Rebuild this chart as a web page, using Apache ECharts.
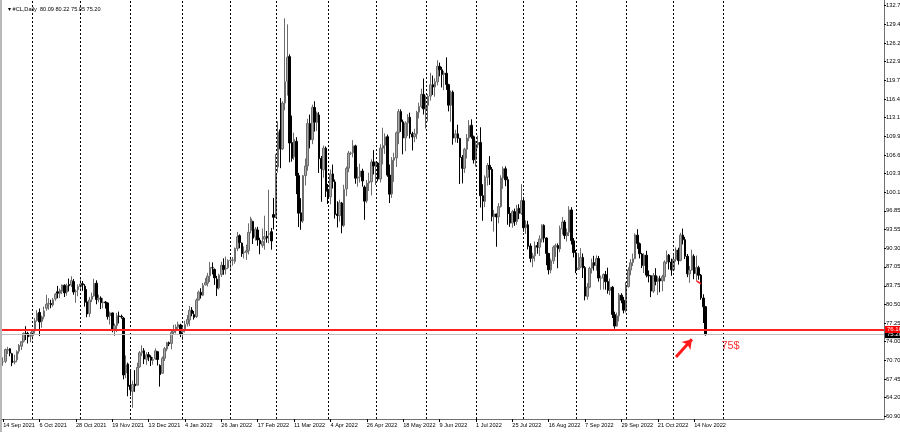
<!DOCTYPE html>
<html><head><meta charset="utf-8">
<script src="https://cdn.jsdelivr.net/npm/echarts@6/dist/echarts.min.js"></script>
<style>html,body{margin:0;padding:0;background:#fff}#c{width:900px;height:432px}</style>
</head><body><div id="c"></div>
<script>
// Daily bars, each [open, high, low, close]
const sep21=[[70.43,71.23,69.76,70.46],[70.55,72.77,70.23,72.61],[72.45,73.08,71.83,72.61],[72.73,72.83,71.43,71.97],[71.87,72.02,69.69,70.29],[70.40,71.70,70.01,70.56],[70.80,72.46,70.39,72.23],[72.31,73.57,71.87,73.30],[73.18,74.09,72.52,73.98],[74.05,75.57,73.82,75.45],[75.45,76.67,74.26,75.29],[75.44,75.70,73.66,74.83],[74.94,75.65,73.88,75.03]];
const oct21=[[75.03,76.21,74.33,75.88],[75.88,78.12,75.40,77.62],[77.68,79.48,77.47,78.93],[79.09,79.78,74.96,77.43],[77.53,78.53,76.41,78.30],[78.39,80.11,77.90,79.35],[79.80,82.18,79.38,80.52],[80.54,81.58,79.56,80.64],[80.65,81.30,79.81,80.44],[80.41,81.62,80.07,81.31],[81.47,82.49,81.12,82.28],[82.70,83.73,81.56,82.44],[82.45,83.27,81.59,82.96],[82.80,83.96,82.27,83.87],[83.84,84.00,81.78,82.50],[82.64,84.13,82.01,83.76],[83.98,85.01,82.76,83.76],[83.88,85.41,83.52,84.65],[84.49,84.94,82.18,82.66],[82.78,83.10,80.77,82.81],[83.08,84.00,81.93,83.57]];
const nov21=[[83.62,84.88,82.82,84.05],[84.10,84.58,82.87,83.91],[83.67,84.03,80.11,80.86],[80.95,83.15,78.25,78.81],[78.90,81.80,78.30,81.27],[81.40,82.55,80.88,81.93],[81.95,84.97,81.82,84.15],[84.20,84.70,80.52,81.34],[81.40,82.19,80.86,81.59],[81.62,81.90,79.67,80.79],[80.80,81.60,79.80,80.88],[80.90,81.08,79.77,80.76],[80.75,80.83,77.84,78.36],[78.50,79.25,76.98,79.01],[79.00,79.08,75.62,76.10],[76.20,77.14,74.98,76.75],[76.76,78.99,75.66,78.50],[78.48,79.23,77.16,78.39],[78.40,78.70,78.00,78.30],[78.10,78.30,67.40,68.15],[68.50,71.56,67.60,69.95],[70.08,70.31,64.43,66.18]];
const dec21=[[66.36,69.10,64.52,65.57],[65.30,67.18,62.43,66.50],[66.55,69.00,65.20,66.26],[66.38,70.30,66.30,69.49],[69.60,72.36,69.38,72.05],[72.03,73.34,71.43,72.36],[72.40,72.85,70.06,70.94],[70.90,72.13,69.94,71.67],[71.70,72.17,70.57,71.29],[71.30,71.60,69.71,70.73],[70.70,71.30,69.96,70.87],[71.01,72.80,70.80,72.38],[72.22,72.31,69.81,70.86],[69.82,70.02,66.12,68.23],[68.46,71.40,68.36,71.12],[71.08,73.05,70.59,72.76],[72.70,73.95,72.30,73.79],[73.80,74.00,73.20,73.60],[73.67,75.92,72.64,75.57],[75.60,76.92,75.30,75.98],[75.90,77.00,75.42,76.56],[76.50,77.47,76.01,76.99],[76.90,77.11,74.78,75.21]];
const jan22=[[75.69,76.58,74.27,76.08],[76.20,77.63,75.58,76.99],[77.10,78.63,76.63,77.85],[77.77,80.24,76.69,79.46],[79.52,80.01,78.42,78.90],[78.70,79.33,77.84,78.23],[78.35,81.53,78.12,81.22],[81.25,82.92,81.17,82.64],[82.60,83.32,81.50,82.12],[82.10,84.23,81.94,83.82],[83.90,85.10,83.80,84.30],[84.20,86.00,83.63,85.43],[85.50,87.91,84.40,86.96],[86.90,87.83,85.73,86.90],[86.60,86.77,83.91,85.14],[84.90,85.48,81.95,83.31],[83.40,85.87,83.09,85.60],[85.70,87.95,85.30,87.35],[87.30,88.54,85.67,86.61],[86.70,88.84,85.74,86.82],[86.90,88.38,86.66,88.15]];
const feb22=[[88.20,88.82,86.55,88.20],[88.20,88.78,87.25,88.26],[88.00,90.44,87.60,90.27],[90.27,93.17,89.81,92.31],[92.50,92.73,90.30,91.32],[91.20,91.33,88.80,89.36],[89.50,90.64,88.53,89.66],[89.60,90.94,88.27,89.88],[89.90,94.66,89.23,93.10],[93.40,95.82,92.91,95.46],[95.00,95.10,91.05,92.07],[92.30,94.00,91.64,93.66],[93.50,94.05,90.74,91.76],[91.70,92.14,89.26,91.07],[90.80,93.75,90.40,91.50],[91.90,96.00,90.05,92.35],[92.40,93.34,91.28,92.10],[92.80,100.54,91.18,92.81],[93.20,93.86,90.06,91.59],[96.20,99.10,93.60,95.72]];
const mar22=[[95.80,106.78,95.59,103.41],[104.50,112.51,103.51,110.60],[111.00,116.57,104.30,107.67],[107.70,116.00,107.48,115.68],[115.70,130.50,114.42,119.40],[119.50,129.44,117.00,123.70],[123.80,124.20,105.33,108.70],[108.80,113.50,105.45,106.02],[106.30,110.50,105.76,109.33],[109.00,109.72,99.76,103.01],[103.00,103.48,94.00,96.44],[96.50,99.06,93.53,95.04],[95.10,103.12,94.74,102.98],[103.00,106.00,101.28,104.70],[104.70,112.91,103.86,112.12],[112.10,113.67,107.77,109.27],[109.30,115.40,108.50,114.93],[114.90,116.00,110.70,112.34],[112.30,114.20,110.81,113.90],[113.60,114.10,103.46,105.96],[106.00,106.43,98.44,104.24],[104.00,108.25,102.62,107.82],[107.80,108.10,99.26,100.28]];
const apr22=[[100.30,101.54,98.05,99.27],[99.30,104.08,98.00,103.28],[103.30,104.93,100.74,101.96],[101.90,102.33,95.50,96.23],[96.30,98.52,93.95,96.03],[96.00,98.80,94.95,98.26],[98.20,98.40,92.93,94.29],[94.30,101.40,94.00,100.60],[100.70,104.59,99.40,104.25],[104.30,107.33,103.60,106.95],[106.90,107.20,106.60,106.95],[107.00,109.20,106.20,108.21],[108.20,108.40,101.58,102.56],[102.60,104.54,101.08,102.75],[102.80,105.08,101.79,103.79],[103.80,104.21,101.07,102.07],[101.00,101.30,95.28,98.54],[98.60,102.22,98.21,101.70],[101.70,103.50,100.31,102.02],[101.90,105.86,99.53,105.36],[105.40,107.46,103.20,104.69]];
const may22=[[104.70,105.45,101.36,105.17],[105.20,105.35,102.00,102.41],[102.40,108.48,101.80,107.81],[107.80,111.37,104.96,108.26],[108.30,110.39,106.80,109.77],[109.80,110.18,102.80,103.09],[103.10,104.93,98.20,99.76],[99.80,106.24,99.10,105.71],[105.70,107.00,101.91,106.13],[106.10,110.70,104.50,110.49],[110.50,114.65,108.50,114.20],[114.20,114.58,110.65,112.40],[112.40,112.80,106.72,109.59],[109.60,112.50,107.27,112.21],[112.20,113.76,109.91,113.23],[113.20,114.00,109.50,110.29],[110.30,110.66,107.40,109.77],[109.80,111.21,108.84,110.33],[110.30,114.33,109.40,114.09],[114.10,115.74,113.00,115.07],[115.10,118.20,114.80,117.20],[117.20,119.98,113.68,114.67]];
const jun22=[[114.70,117.00,111.23,115.26],[115.30,117.24,112.45,116.87],[116.90,120.99,116.10,118.87],[118.90,120.50,117.10,118.50],[118.50,120.00,116.80,119.41],[119.40,123.18,118.80,122.11],[122.10,122.75,120.36,121.51],[121.50,122.00,118.41,120.67],[120.70,121.32,117.93,120.93],[120.90,123.68,118.00,118.93],[118.90,119.06,114.23,115.31],[115.30,117.88,112.41,117.59],[117.60,117.89,108.41,109.56],[109.60,111.00,108.80,110.30],[110.30,111.90,108.72,109.52],[109.50,109.60,101.53,106.19],[106.20,106.59,101.64,104.27],[104.30,107.87,103.47,107.62],[107.60,110.27,106.00,109.57],[109.60,112.70,109.00,111.76],[111.80,112.84,109.46,109.78],[109.80,110.00,105.11,105.76]];
const jul22=[[105.80,109.10,104.56,108.43],[108.40,110.00,107.80,108.80],[108.80,111.45,97.43,99.50],[99.50,101.50,95.10,98.53],[98.50,103.05,97.50,102.73],[102.70,105.20,101.26,104.79],[104.80,106.40,101.37,104.09],[104.10,104.50,95.01,95.84],[95.80,97.00,93.22,96.30],[96.30,96.36,90.56,95.78],[95.80,98.20,94.67,97.59],[97.60,103.05,97.40,102.60],[102.60,104.60,100.68,104.22],[104.20,104.62,101.15,102.26],[102.30,102.84,94.41,96.35],[96.40,97.50,94.05,94.70],[94.70,97.00,93.90,96.70],[96.70,97.24,94.21,94.98],[95.00,97.89,94.41,97.26],[97.30,98.00,95.40,96.42],[96.40,101.50,96.15,98.62]];
const aug22=[[98.60,99.20,93.20,93.89],[93.90,95.18,92.80,94.42],[94.40,95.10,90.10,90.66],[90.70,91.15,87.85,88.54],[88.50,89.50,87.01,89.01],[89.00,91.50,88.00,90.76],[90.80,91.40,89.34,90.50],[90.50,92.57,88.94,91.93],[91.90,94.50,91.30,94.34],[94.30,94.50,91.32,92.09],[92.10,92.20,87.34,89.41],[89.40,89.50,85.73,86.53],[86.50,88.50,85.93,88.11],[88.10,90.78,87.55,90.50],[90.50,91.11,88.80,90.77],[90.80,91.15,86.81,90.23],[90.20,94.26,89.60,93.74],[93.70,95.78,92.70,94.89],[94.90,95.23,91.91,92.52],[92.50,93.75,91.47,93.06],[93.10,97.65,92.43,97.01],[97.00,97.49,90.95,91.64],[91.60,92.10,88.71,89.55]];
const sep22=[[89.50,90.00,85.96,86.61],[86.60,89.45,86.55,86.87],[87.00,90.33,86.80,88.70],[88.70,89.40,85.10,86.88],[86.90,87.20,81.20,81.94],[81.90,84.21,81.30,83.54],[83.50,87.07,83.30,86.79],[86.80,88.50,85.90,87.78],[87.80,88.98,86.40,87.31],[87.30,89.06,86.40,88.48],[88.50,88.96,84.47,85.10],[85.10,85.54,83.05,85.11],[85.10,85.90,83.08,85.73],[85.70,86.34,83.06,84.45],[84.50,86.91,82.35,82.94],[82.90,85.00,82.11,83.49],[83.50,83.70,78.11,78.74],[78.70,79.21,76.25,76.71],[76.70,79.07,76.60,78.50],[78.50,82.50,77.50,82.15],[82.10,82.45,80.70,81.23],[81.20,81.80,78.92,79.49]];
const oct22=[[79.50,84.42,79.08,83.63],[83.60,86.97,83.43,86.52],[86.50,88.42,85.58,87.76],[87.80,89.37,87.20,88.45],[88.50,92.90,88.38,92.64],[92.60,93.64,90.20,91.13],[91.10,91.31,88.53,89.35],[89.30,89.49,86.83,87.27],[87.30,89.44,85.96,89.11],[89.10,89.87,85.22,85.61],[85.60,86.42,84.34,85.46],[85.50,85.60,81.76,82.82],[82.80,86.00,82.50,85.55],[85.50,86.82,83.83,84.51],[84.50,85.38,82.13,85.05],[85.00,85.50,82.61,84.58],[84.60,85.65,82.79,85.32],[85.30,88.20,84.51,87.91],[87.90,89.91,87.57,89.08],[89.10,89.30,86.60,87.90],[87.90,88.50,85.50,86.53]];
const nov22=[[86.50,89.30,86.30,88.37],[88.40,90.46,87.97,90.00],[90.00,90.40,87.45,88.17],[88.20,93.00,88.02,92.61],[92.60,93.74,90.97,91.79],[91.80,92.30,88.42,88.91],[88.90,89.30,85.25,85.83],[85.80,87.20,84.26,86.47],[86.50,90.05,86.39,88.96],[88.90,89.25,84.89,85.87],[85.90,89.03,84.61,86.92],[86.90,87.24,84.80,85.59],[85.60,85.80,81.30,81.64],[81.60,82.26,77.24,80.08],[80.09,80.22,75.05,75.20]];

const firstDate = '2021-09-14';
const emptyBarsRight = 78;
const priceTicks = [60.90,64.20,67.45,70.70,74.00,77.25,80.50,83.75,87.05,90.30,93.55,96.85,100.10,103.35,106.60,109.90,113.15,116.40,119.70,122.95,126.20,129.45,132.75];
const supportLevel = 76.10;
const bidLevel = 75.20;
const symbolName = '#CL,Daily';
const noteText = '75$';
const arrowFrom = [296.2, 71.3];
const arrowTo = [302.5, 74.4];
const notePos = [320, 73.3];
const redTickFrom = [304.8, 84.6];
const redTickTo = [306.6, 84.1];

const bars = [].concat(sep21,oct21,nov21,dec21,jan22,feb22,mar22,apr22,may22,jun22,jul22,aug22,sep22,oct22,nov22);
const nBars = bars.length;

// weekday calendar (every weekday has a bar on this CFD chart)
const dates = [];
{
  const d = new Date(firstDate + 'T00:00:00Z');
  while (dates.length < nBars + emptyBarsRight) {
    const wd = d.getUTCDay();
    if (wd !== 0 && wd !== 6) dates.push(d.toISOString().slice(0,10));
    d.setUTCDate(d.getUTCDate() + 1);
  }
}
const MON = ['Jan','Feb','Mar','Apr','May','Jun','Jul','Aug','Sep','Oct','Nov','Dec'];
function fmtDate(s){ const p=s.split('-'); return (+p[2])+' '+MON[+p[1]-1]+' '+p[0]; }

// month-start grid lines
const monthStarts = [];
for (let i = 1; i < dates.length; i++) {
  if (dates[i].slice(0,7) !== dates[i-1].slice(0,7) && i < nBars + 12) monthStarts.push(dates[i]);
}

const candleData = bars.map(b => [b[0], b[3], b[2], b[1]]);
const last = bars[nBars-1];
const labelEvery = 16;
const showLabel = (idx) => idx % labelEvery === 0 && idx < nBars;

const chart = echarts.init(document.getElementById('c'), null, {renderer:'canvas'});
const FONT = 'Liberation Sans';
chart.setOption({
  animation:false,
  backgroundColor:'#ffffff',
  title:{text:'\u25BE ' + symbolName + '  ' + last.map(v=>v.toFixed(2)).join(' '), left:3, top:1,
    textStyle:{fontSize:5.6, fontWeight:'normal', color:'#000', fontFamily:FONT}},
  grid:{left:2, right:16, top:0, bottom:13, outerBoundsMode:'none', containLabel:false},
  xAxis:{type:'category', data:dates, boundaryGap:true,
    axisLine:{show:true, lineStyle:{color:'#707070', width:1}},
    axisTick:{show:true, alignWithLabel:true, interval:(i)=>showLabel(i), length:3, lineStyle:{color:'#000'}},
    axisLabel:{interval:(i)=>showLabel(i), formatter:fmtDate, fontSize:5.6, color:'#000', align:'left', margin:3, fontFamily:FONT, hideOverlap:false},
    splitLine:{show:false}},
  yAxis:{type:'value', position:'right', min:60.46, max:133.7, scale:true,
    axisLine:{show:true, lineStyle:{color:'#707070', width:1}},
    axisTick:{show:true, length:2, lineStyle:{color:'#000'}, customValues:priceTicks},
    axisLabel:{show:true, fontSize:5.8, color:'#000', margin:2, fontFamily:FONT, customValues:priceTicks, formatter:(v)=>v.toFixed(2)},
    splitLine:{show:false}},
  series:[{
    type:'candlestick', data:candleData, barWidth:2,
    itemStyle:{color:'#a8a8a8', color0:'#000000', borderColor:'#6c6c6c', borderColor0:'#000000', borderWidth:1},
    markLine:{silent:true, symbol:['none','none'], animation:false,
      data:[
        ...monthStarts.map(m=>({xAxis:m, lineStyle:{color:'#000', width:1, type:[2,2]}, label:{show:false}})),
        {yAxis:bidLevel, lineStyle:{color:'#c0c0c0', width:1, type:'solid'},
          label:{show:true, position:'end', distance:1, formatter:bidLevel.toFixed(2), color:'#fff', backgroundColor:'#000', padding:[1,2,0,2], fontSize:6, fontFamily:FONT}},
        {yAxis:supportLevel, lineStyle:{color:'#ff2020', width:2, type:'solid'},
          label:{show:true, position:'end', distance:1, formatter:supportLevel.toFixed(2), color:'#fff', backgroundColor:'#ff0000', padding:[1,2,0,2], fontSize:6, fontFamily:FONT}},
        [{coord:arrowFrom, symbol:'none', lineStyle:{color:'#ff1a1a', width:3, type:'solid'}, label:{show:false}},
         {coord:arrowTo, symbol:'arrow', symbolSize:9}],
        [{coord:redTickFrom, symbol:'none', lineStyle:{color:'#ff2020', width:1.5, type:'solid'}, label:{show:false}},
         {coord:redTickTo, symbol:'none'}]
      ]},
    markPoint:{silent:true, symbol:'circle', symbolSize:0,
      data:[{coord:notePos, label:{show:true, formatter:noteText, color:'#ff3030', fontSize:11, fontFamily:FONT, position:'inside'}}]}
  }],
  graphic:[{type:'rect', left:0, top:0, shape:{width:2, height:432}, style:{fill:'#b8b8b8'}, silent:true}]
});
</script></body></html>
